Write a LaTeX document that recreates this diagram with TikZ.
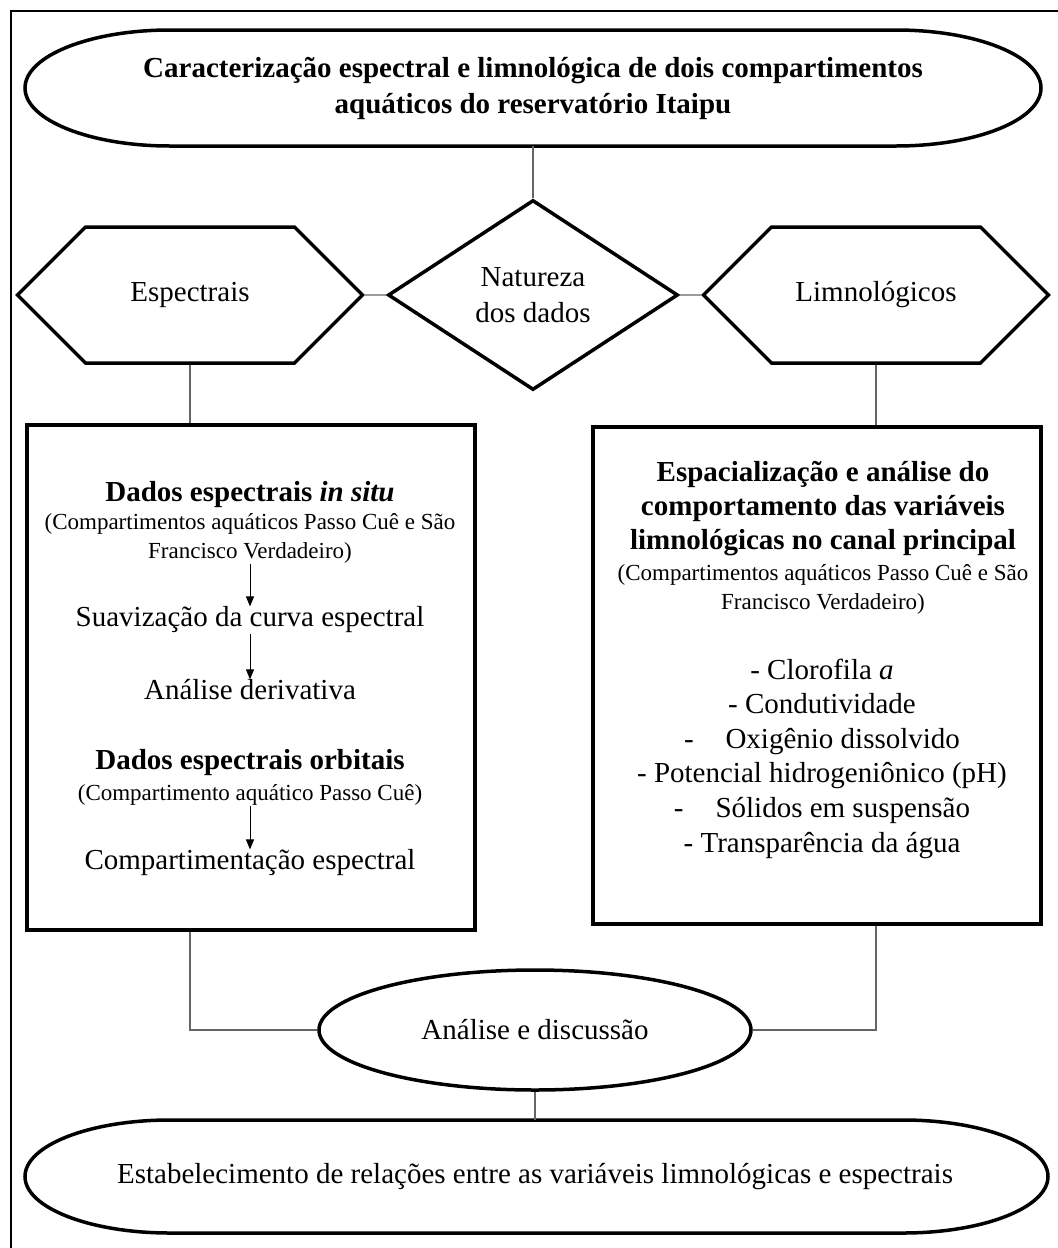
\documentclass[tikz,border=0pt]{standalone}
\usepackage{fontspec}
\setmainfont{Liberation Serif}
\usetikzlibrary{shapes.geometric, shapes.symbols, arrows.meta}

\begin{document}
\begin{tikzpicture}[
        x = 0.5pt, y = -0.5pt,
        font = \fontsize{14.5}{18}\selectfont,
        forma/.style = {line width = 1.75pt},
        ligacao/.style = {draw = black!60, line width = 0.6pt},
        seta/.style = {line width = 0.5pt, -{Triangle[length = 5pt, width = 4pt]}},
        texto/.style = {inner sep = 0pt, align = center},
        negrito/.style = {texto, font = \fontsize{14.5}{18}\selectfont\bfseries},
        miudo/.style = {texto, font = \fontsize{11.5}{14.5}\selectfont},
        hexagono/.style = {draw, forma, signal, signal from = nowhere, signal to = west and east,
            signal pointer angle = 90, minimum width = 172.5pt, minimum height = 68pt},
        caixa/.style = {draw, line width = 2pt, minimum width = 224pt}
    ]
    \useasboundingbox (0, 0) rectangle (1058, 1248);

    % moldura
    \draw[line width = 1pt] (1058, 11) -- (11, 11) -- (11, 1248);

    % contornos dos terminais
    \draw[forma] (170, 30) -- (896, 30)
        arc[start angle = -90, end angle = 90, x radius = 145, y radius = 58]
        -- (170, 146)
        arc[start angle = 90, end angle = 270, x radius = 145, y radius = 58]
        -- cycle;
    \draw[forma] (170, 1120) -- (903, 1120)
        arc[start angle = -90, end angle = 90, x radius = 145, y radius = 56.5]
        -- (170, 1233)
        arc[start angle = 90, end angle = 270, x radius = 145, y radius = 56.5]
        -- cycle;

    \draw
        (533, 88)    node (titulo)       [negrito, minimum width = 508pt, minimum height = 58pt]
            {Caracterização espectral e limnológica de dois compartimentos\\aquáticos do reservatório Itaipu}
        (533, 295)   node (natureza)     [draw, forma, diamond, inner sep = 0pt, align = center,
                                          minimum width = 145pt, minimum height = 95pt] {Natureza\\dos dados}
        (190, 295)   node (espectrais)   [hexagono] {Espectrais}
        (876, 295)   node (limnologicos) [hexagono] {Limnológicos}

        (251, 677.5) node (caixaesp)     [caixa, minimum height = 252.5pt] {}
        (817, 675.5) node (caixalim)     [caixa, minimum height = 248.5pt] {}

        (535, 1030)  node (analise)      [draw, forma, ellipse, minimum width = 216pt, minimum height = 60pt]
            {Análise e discussão}
        (535, 1176.5) node (relacoes)    [texto, minimum width = 511.5pt, minimum height = 56.5pt]
            {Estabelecimento de relações entre as variáveis limnológicas e espectrais}

        (titulo)     edge[ligacao] (natureza)
        (espectrais) edge[ligacao] (natureza)
        (natureza)   edge[ligacao] (limnologicos)
        (espectrais.south)   edge[ligacao] (espectrais.south |- caixaesp.north)
        (limnologicos.south) edge[ligacao] (limnologicos.south |- caixalim.north)
        (analise)    edge[ligacao] (relacoes)
    ;

    \draw[ligacao] (espectrais.south |- caixaesp.south) |- (analise.west);
    \draw[ligacao] (limnologicos.south |- caixalim.south) |- (analise.east);

    % dados espectrais
    \draw
        (250, 495)   node (insitu)     [negrito] {Dados espectrais \textit{in situ}}
        (250, 538.5) node (compinsitu) [miudo] {(Compartimentos aquáticos Passo Cuê e São\\Francisco Verdadeiro)}
        (250, 620)   node (suavizacao) [texto] {Suavização da curva espectral}
        (250, 690)   node (derivativa) [texto] {Análise derivativa}
        (250, 763)   node (orbitais)   [negrito] {Dados espectrais orbitais}
        (250, 795)   node (comporb)    [miudo] {(Compartimento aquático Passo Cuê)}
        (250, 863)   node (compart)    [texto] {Compartimentação espectral}
    ;
    \draw[seta] (compinsitu) -- (suavizacao);
    \draw[seta] (suavizacao) -- (derivativa);
    \draw[seta] (comporb) -- (compart);

    % dados limnologicos
    \draw
        (823, 509)   node (espacial)   [negrito, font = \fontsize{14.5}{17}\selectfont\bfseries]
            {Espacialização e análise do\\comportamento das variáveis\\limnológicas no canal principal}
        (823, 589)   node (complim)    [miudo] {(Compartimentos aquáticos Passo Cuê e São\\Francisco Verdadeiro)}
        (822, 758.5) node (variaveis)  [texto, font = \fontsize{14.5}{17.3}\selectfont]
            {- Clorofila \textit{a}\\
             - Condutividade\\
             -\hspace{1.1em}Oxigênio dissolvido\\
             - Potencial hidrogeniônico (pH)\\
             -\hspace{1.1em}Sólidos em suspensão\\
             - Transparência da água}
    ;

\end{tikzpicture}
\end{document}
